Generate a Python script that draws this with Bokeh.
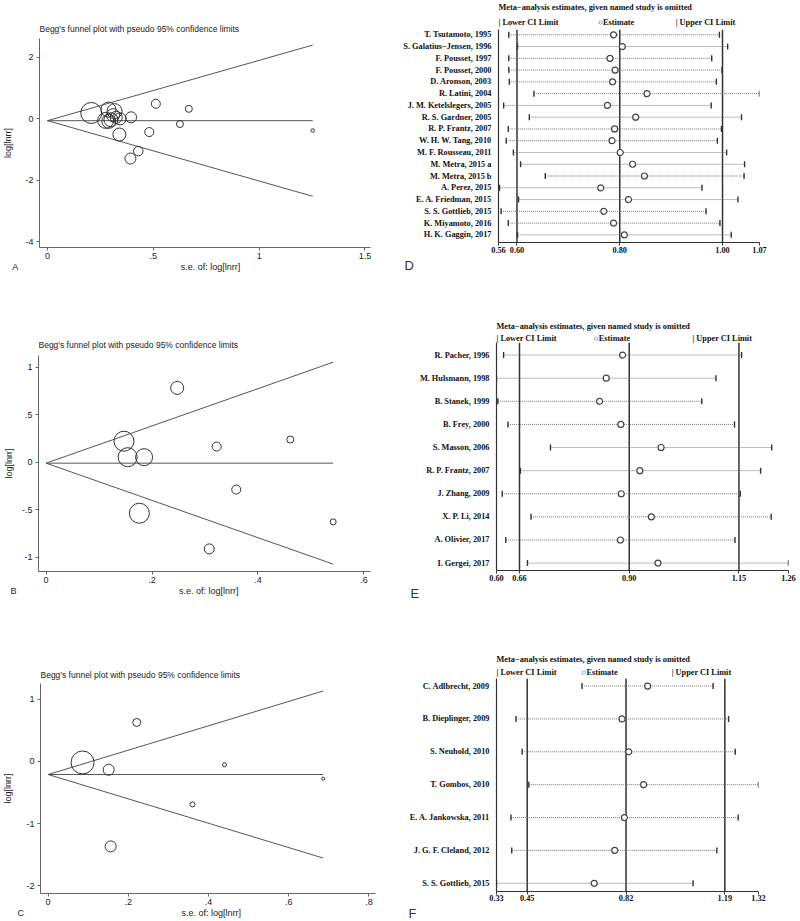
import numpy as np
from bokeh.plotting import figure
from bokeh.models import FixedTicker, Range1d, Span, Title
from bokeh.layouts import column, row
from bokeh.embed import file_html
from bokeh.resources import INLINE

SANS = "Liberation Sans"
SERIF = "Liberation Serif"

# ---------------- Panel A (Begg's funnel) ----------------
a_se = [0.207, 0.275, 0.288, 0.317, 0.300, 0.325, 0.343, 0.310, 0.290, 0.395,
        0.512, 0.668, 0.626, 0.481, 0.340, 0.429, 0.392, 1.253]
a_est = [0.19, -0.05, 0.30, 0.25, -0.03, 0.05, 0.00, 0.12, -0.08, 0.05,
         0.49, 0.325, -0.17, -0.43, -0.51, -1.05, -1.29, -0.38]
a_wt = [21, 16, 15, 15, 14, 12, 12, 13, 14, 11, 9, 7, 7, 9, 13, 9.5, 11, 3.5]
a_pooled = -0.06
a_xticks = [0, 0.5, 1, 1.5]
a_xlabels = ["0", ".5", "1", "1.5"]
a_yticks = [2, 0, -2, -4]
a_ylabels = ["2", "0", "-2", "-4"]

# ---------------- Panel B ----------------
b_se = [0.2475, 0.147, 0.154, 0.185, 0.322, 0.461, 0.359, 0.176, 0.308, 0.542]
b_est = [0.782, 0.221, 0.053, 0.053, 0.165, 0.239, -0.288, -0.537, -0.912, -0.628]
b_wt = [13, 20, 19, 17, 9, 7, 9, 20, 10, 6]
b_pooled = -0.01
b_xticks = [0, 0.2, 0.4, 0.6]
b_xlabels = ["0", ".2", ".4", ".6"]
b_yticks = [1, 0.5, 0, -0.5, -1]
b_ylabels = ["1", ".5", "0", "-.5", "-1"]

# ---------------- Panel C ----------------
c_se = [0.086, 0.151, 0.221, 0.440, 0.686, 0.360, 0.156]
c_est = [-0.016, -0.133, 0.628, -0.053, -0.277, -0.691, -1.367]
c_wt = [23, 11, 8, 4, 3, 5, 11]
c_pooled = -0.21
c_xticks = [0, 0.2, 0.4, 0.6, 0.8]
c_xlabels = ["0", ".2", ".4", ".6", ".8"]
c_yticks = [1, 0, -1, -2]
c_ylabels = ["1", "0", "-1", "-2"]

# ---------------- Panel D (influence analysis) ----------------
d_names = ["T. Tsutamoto, 1995", "S. Galatius\u2212Jensen, 1996", "F. Pousset, 1997",
           "F. Pousset, 2000", "D. Aronson, 2003", "R. Latini, 2004",
           "J. M. Ketelslegers, 2005", "R. S. Gardner, 2005", "R. P. Frantz, 2007",
           "W. H. W. Tang, 2010", "M. F. Rousseau, 2011", "M. Metra, 2015 a",
           "M. Metra, 2015 b", "A. Perez, 2015", "E. A. Friedman, 2015",
           "S. S. Gottlieb, 2015", "K. Miyamoto, 2016", "H. K. Gaggin, 2017"]
d_lo = [0.584, 0.601, 0.584, 0.584, 0.585, 0.633, 0.574, 0.624, 0.583, 0.579,
        0.593, 0.607, 0.655, 0.566, 0.603, 0.569, 0.583, 0.601]
d_est = [0.788, 0.805, 0.781, 0.791, 0.786, 0.853, 0.776, 0.831, 0.790, 0.785,
         0.801, 0.825, 0.848, 0.763, 0.817, 0.769, 0.788, 0.809]
d_hi = [0.994, 1.010, 0.979, 0.999, 0.988, 1.072, 0.978, 1.037, 0.998, 0.990,
        1.008, 1.043, 1.042, 0.960, 1.030, 0.968, 0.995, 1.017]
d_overall = [0.600, 0.800, 1.000]
d_xticks = [0.564, 0.600, 0.800, 1.000, 1.072]
d_xlabels = ["0.56", "0.60", "0.80", "1.00", "1.07"]

# ---------------- Panel E ----------------
e_names = ["R. Pacher, 1996", "M. Hulsmann, 1998", "B. Stanek, 1999", "B. Frey, 2000",
           "S. Masson, 2006", "R. P. Frantz, 2007", "J. Zhang, 2009", "X. P. Li, 2014",
           "A. Olivier, 2017", "I. Gergei, 2017"]
e_lo = [0.616, 0.600, 0.603, 0.626, 0.722, 0.654, 0.613, 0.678, 0.621, 0.670]
e_est = [0.885, 0.848, 0.833, 0.881, 0.972, 0.924, 0.882, 0.950, 0.880, 0.965]
e_hi = [1.154, 1.096, 1.064, 1.138, 1.222, 1.197, 1.151, 1.221, 1.139, 1.260]
e_overall = [0.652, 0.900, 1.148]
e_xticks = [0.600, 0.652, 0.900, 1.148, 1.260]
e_xlabels = ["0.60", "0.66", "0.90", "1.15", "1.26"]

# ---------------- Panel F ----------------
f_names = ["C. Adlbrecht, 2009", "B. Dieplinger, 2009", "S. Neuhold, 2010",
           "T. Gombos, 2010", "E. A. Jankowska, 2011", "J. G. F. Cleland, 2012",
           "S. S. Gottlieb, 2015"]
f_lo = [0.655, 0.408, 0.431, 0.456, 0.389, 0.392, 0.335]
f_est = [0.901, 0.805, 0.830, 0.886, 0.814, 0.778, 0.701]
f_hi = [1.146, 1.204, 1.229, 1.316, 1.240, 1.160, 1.071]
f_overall = [0.45, 0.82, 1.19]
f_xticks = [0.335, 0.45, 0.82, 1.19, 1.316]
f_xlabels = ["0.33", "0.45", "0.82", "1.19", "1.32"]

legend_labels = ["| Lower CI Limit", "\u25cbEstimate", "| Upper CI Limit"]
funnel_xlabel = "s.e. of: log[lnrr]"
NB = "\u00a0"


def style_axis(ax, font, size, color, line_color, bold=False, tick_out=3):
    ax.axis_line_color = line_color
    ax.axis_line_width = 1
    ax.major_tick_line_color = line_color
    ax.major_tick_in = 0
    ax.major_tick_out = tick_out
    ax.minor_tick_line_color = None
    ax.major_label_text_font = font
    ax.major_label_text_font_size = size
    ax.major_label_text_color = color
    ax.major_label_text_font_style = "bold" if bold else "normal"
    ax.axis_label_text_font = font
    ax.axis_label_text_font_size = size
    ax.axis_label_text_font_style = "normal"
    ax.axis_label_text_color = color


def funnel(se, est, wt, pooled, xr, yr, xt, xl, yt, yl, w, h, borders,
           title_standoff, ylab_standoff, letter, pads):
    left, right, top, bottom = borders
    xlabel = letter + NB * pads[0] + funnel_xlabel + NB * pads[1]
    p = figure(width=w, height=h, output_backend="svg", toolbar_location=None,
               x_range=Range1d(*xr), y_range=Range1d(*yr),
               min_border_left=left, min_border_right=right,
               min_border_top=top, min_border_bottom=bottom,
               title="Begg's funnel plot with pseudo 95% confidence limits",
               x_axis_label=xlabel, y_axis_label="log[lnrr]")
    p.outline_line_color = None
    p.grid.visible = False
    t = p.title
    t.text_font = SANS
    t.text_font_size = "8.5px"
    t.text_font_style = "normal"
    t.text_color = "#222"
    t.align = "left"
    t.offset = 0
    t.standoff = title_standoff
    smax = max(se)
    p.line([0, smax], [pooled, pooled], line_color="#555", line_width=1)
    p.line([0, smax], [pooled, pooled + 1.96 * smax], line_color="#555", line_width=1)
    p.line([0, smax], [pooled, pooled - 1.96 * smax], line_color="#555", line_width=1)
    p.scatter(se, est, size=wt, marker="circle", fill_color=None,
              line_color="#333", line_width=1)
    style_axis(p.xaxis[0], SANS, "9px", "#222", "#666")
    style_axis(p.yaxis[0], SANS, "9px", "#222", "#666")
    p.xaxis.ticker = FixedTicker(ticks=xt)
    p.xaxis.major_label_overrides = dict(zip(xt, xl))
    p.yaxis.ticker = FixedTicker(ticks=yt)
    p.yaxis.major_label_overrides = dict(zip(yt, yl))
    p.xaxis.major_label_standoff = 2
    p.xaxis.axis_label_standoff = 0
    p.yaxis.major_label_standoff = 3
    p.yaxis.axis_label_standoff = ylab_standoff
    return p


def forest(names, lo, est, hi, overall, xt, xl, xr, yr, w, h, borders,
           gaps, leg_standoff, title_standoff, xlab_standoff, letter, loff):
    left, right, top, bottom = borders
    ys = list(range(1, len(names) + 1))
    p = figure(width=w, height=h, output_backend="svg", toolbar_location=None,
               x_range=Range1d(*xr), y_range=Range1d(*yr),
               min_border_left=left, min_border_right=right,
               min_border_top=top, min_border_bottom=bottom, title=None)
    p.outline_line_color = None
    p.grid.visible = False
    for v in overall:
        p.add_layout(Span(location=v, dimension="height", line_color="#333",
                          line_width=1.5, level="underlay"))
    p.segment(x0=lo, y0=ys, x1=hi, y1=ys, line_color="#777", line_width=1,
              line_dash="1 1")
    p.scatter(lo, ys, marker="dash", angle=np.pi / 2, size=6,
              line_color="#333", line_width=1.4)
    p.scatter(hi, ys, marker="dash", angle=np.pi / 2, size=6,
              line_color="#333", line_width=1.4)
    p.scatter(est, ys, marker="circle", size=6, fill_color="white",
              line_color="#444", line_width=1.2)
    key = legend_labels[0] + NB * gaps[0] + legend_labels[1] + NB * gaps[1] + legend_labels[2]
    p.add_layout(Title(text=key, align="left", offset=0, standoff=leg_standoff,
                       text_font=SERIF, text_font_size="8.3px", text_font_style="bold",
                       text_color="#111"), "above")
    p.add_layout(Title(text="Meta\u2212analysis estimates, given named study is omitted",
                       align="left", offset=0, standoff=title_standoff,
                       text_font=SERIF, text_font_size="8.3px", text_font_style="bold",
                       text_color="#111"), "above")
    p.add_layout(Title(text=letter, align="left", offset=loff, standoff=0,
                       text_font=SANS, text_font_size="13px", text_font_style="normal",
                       text_color="#333"), "below")
    style_axis(p.xaxis[0], SERIF, "8.3px", "#111", "#333", bold=True)
    style_axis(p.yaxis[0], SERIF, "8.3px", "#111", "#333", bold=True, tick_out=0)
    p.xaxis.ticker = FixedTicker(ticks=xt)
    p.xaxis.major_label_overrides = dict(zip(xt, xl))
    p.xaxis.major_label_standoff = xlab_standoff
    p.yaxis.ticker = FixedTicker(ticks=ys)
    p.yaxis.major_label_overrides = dict(zip(ys, names))
    p.yaxis.major_label_standoff = 7
    p.yaxis.axis_line_width = 1.2
    return p


pA = funnel(a_se, a_est, a_wt, a_pooled, (-0.0375, 1.526), (-4.18, 2.61),
            a_xticks, a_xlabels, a_yticks, a_ylabels, 400, 300, (36, 30, 38, 53),
            10, 9, "A", (65, 63))
pD = forest(d_names, d_lo, d_est, d_hi, d_overall, d_xticks, d_xlabels,
            (0.564, 1.072), (18.65, 0.55), 398, 300, (96, 39, 27, 58),
            (19, 20), 6, 1, 1, "D", -94)
pB = funnel(b_se, b_est, b_wt, b_pooled, (-0.0144, 0.6125), (-1.15, 1.123),
            b_xticks, b_xlabels, b_yticks, b_ylabels, 400, 300, (34, 30, 55, 29),
            11, 5, "B", (65, 64))
pE = forest(e_names, e_lo, e_est, e_hi, e_overall, e_xticks, e_xlabels,
            (0.600, 1.260), (10.32, 0.457), 398, 300, (96, 10, 42, 29),
            (18, 30), 0, 2, 1, "E", -86)
pC = funnel(c_se, c_est, c_wt, c_pooled, (-0.019, 0.8165), (-2.125, 1.255),
            c_xticks, c_xlabels, c_yticks, c_ylabels, 400, 320, (37, 25, 83, 25),
            8, 10, "C", (63, 63))
pF = forest(f_names, f_lo, f_est, f_hi, f_overall, f_xticks, f_xlabels,
            (0.335, 1.316), (7.25, 0.77), 398, 320, (96, 40, 78, 28),
            (12, 26), 3, 1, 0, "F", -88)

layout = column(row(column(pA), column(pD)),
                row(column(pB), column(pE)),
                row(column(pC), column(pF)))
open("out.html", "w").write(file_html(layout, INLINE))
